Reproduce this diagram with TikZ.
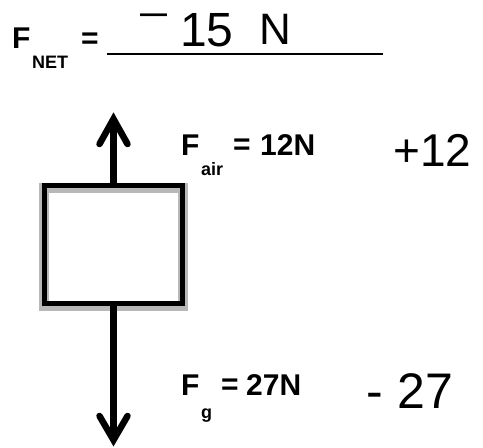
\documentclass[tikz,border=0pt]{standalone}
\usepackage{fontspec}
\setmainfont{Liberation Sans}
\usetikzlibrary{calc,backgrounds}
\begin{document}
\begin{tikzpicture}[x=1pt,y=-1pt,
  big/.style={inner sep=0pt, anchor=base west, font=\fontsize{30}{32}\selectfont\bfseries},
  sub/.style={inner sep=0pt, anchor=base west, font=\fontsize{18}{20}\selectfont\bfseries},
  hand/.style={inner sep=0pt, anchor=base west, font=\fontsize{48}{50}\selectfont},
  boxst/.style={draw, line width=5pt, minimum width=138.5pt, minimum height=118pt, inner sep=0pt, outer sep=0pt},
  halo/.style={draw=black!28, line width=10pt},
  shaft/.style={line width=6.5pt},
  head/.style={line width=6.5pt, line cap=round, line join=miter},
  rulest/.style={line width=1.5pt}
]
\useasboundingbox (0,0) rectangle (483,448);
% box
\node[boxst] (box) at (113.5,244) {};
\begin{scope}[on background layer]
\draw[halo] ([yshift=-2.5pt]box.south west) rectangle ([yshift=-2.5pt]box.north east);
\end{scope}
% arrows
\coordinate (upTip) at (113.5,119);
\coordinate (dnTip) at (113.5,440);
\draw[shaft] (box.north) -- (upTip);
\draw[head] ($(upTip)+(-14,25)$) -- (upTip) -- ($(upTip)+(14,25)$);
\draw[shaft] (box.south) -- (dnTip);
\draw[head] ($(dnTip)+(-14,-24)$) -- (dnTip) -- ($(dnTip)+(14,-24)$);
% F net
\node[big] (fnetF) at (12,48) {F};
\node[sub] (fnetS) at (32,68) {NET};
\node[big] (fnetEq) at (81,48) {=};
\coordinate (ruleL) at (107,54);
\coordinate (ruleR) at (383,54);
\draw[rulest] (ruleL) -- (ruleR);
\node[hand, font=\fontsize{27}{28}\selectfont\bfseries, text height=9pt, text depth=0pt] (hMinus) at (140,22) {—};
\node[hand] (h15) at (180,46) {15};
\node[hand, font=\fontsize{44}{46}\selectfont] (hN) at (259,44) {N};
% F air
\node[big] (fairF) at (181,155) {F};
\node[sub] (fairS) at (201,175) {air};
\node[big] (fairEq) at (233,154) {=};
\node[big] (fairV) at (260,155) {12N};
\node[hand, font=\fontsize{46}{48}\selectfont] (hPlus) at (393,166) {+12};
% F g
\node[big] (fgF) at (181,395) {F};
\node[sub] (fgS) at (201,418) {g};
\node[big] (fgEq) at (221,394) {=};
\node[big] (fgV) at (246,395) {27N};
\node[hand, font=\fontsize{50}{52}\selectfont] (hMin27) at (366,408) {-\hspace{0.3em}27};
\end{tikzpicture}
\end{document}
